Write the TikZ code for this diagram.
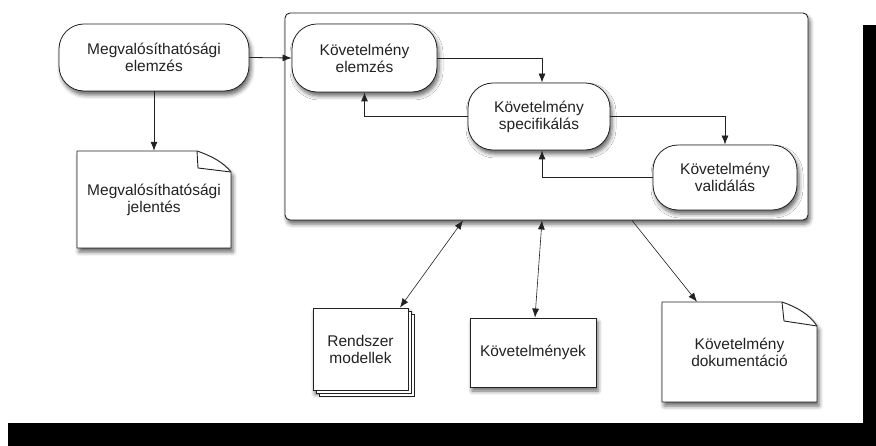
\documentclass[tikz,border=0pt]{standalone}
\usepackage{fontspec}
\setmainfont{Liberation Sans}
\usetikzlibrary{arrows.meta,shadows,shadows.blur}
\definecolor{linec}{HTML}{222222}
\begin{document}
\begin{tikzpicture}[x=1pt,y=-1pt,
  shad/.style={blur shadow={shadow xshift=2pt,shadow yshift=-4pt,shadow blur radius=4pt,shadow opacity=60}},
  txt/.style={align=center,font=\fontsize{15.5}{17}\selectfont,text=linec,inner sep=0pt},
  proc/.style={txt,draw=linec,fill=white,line width=0.8pt,rounded corners=25pt,shad},
  boxn/.style={txt,draw=linec,fill=white,line width=0.9pt,shad},
  docn/.style={txt},
  docline/.style={draw=linec,line width=0.9pt,line join=round},
  arr/.style={draw=linec,line width=0.8pt,-{Latex[length=9pt,width=7pt]}},
  arrb/.style={draw=linec,line width=0.6pt,{Latex[length=9pt,width=7pt]}-{Latex[length=9pt,width=7pt]}},
  arro/.style={draw=linec,line width=0.6pt,-{Latex[length=9pt,width=7pt]}}
]
\useasboundingbox (0,0) rectangle (876,446);
\fill[black] (863,25) rectangle (876,446);
\fill[black] (8,423) rectangle (876,446);

% big container
\node[draw=linec,fill=white,line width=0.9pt,rounded corners=5pt,minimum width=523pt,minimum height=207pt,inner sep=0pt,shad] (big) at (546.5,116.5) {};

% process nodes
\node[proc,minimum width=190pt,minimum height=67pt] (fe) at (154,57.5) {Megvalósíthatósági\\elemzés};
\node[proc,minimum width=145pt,minimum height=68pt] (ke) at (364.5,58) {Követelmény\\elemzés};
\node[proc,minimum width=142pt,minimum height=67pt] (ks) at (539,116.5) {Követelmény\\specifikálás};
\node[proc,minimum width=144pt,minimum height=65pt] (kv) at (725,177.5) {Követelmény\\validálás};

% document shapes (drawn before their text nodes)
\draw[docline,fill=white,shad] (77,248) -- (77,151) -- (197,151)
   .. controls (212,156) and (224,163) .. (231,172) -- (231,248) -- cycle;
\draw[docline] (197,151) -- (198,168) -- (231,172);
\draw[docline,fill=white,shad] (662,402) -- (662,302) -- (782,302)
   .. controls (797,307) and (810,315) .. (817,326) -- (817,402) -- cycle;
\draw[docline] (782,302) -- (784,321) -- (817,326);

\node[docn,minimum width=154pt,minimum height=97pt] (fr) at (154,199.5) {Megvalósíthatósági\\jelentés};
\node[docn,minimum width=155pt,minimum height=100pt] (kd) at (739.5,352) {Követelmény\\dokumentáció};

% stacked pages
\node[boxn,minimum width=95pt,minimum height=82pt,
  double copy shadow={shadow xshift=3pt,shadow yshift=-3pt,draw=linec,fill=white,line width=0.8pt}]
  (rm) at (360.5,349) {Rendszer\\modellek};
\node[boxn,minimum width=126pt,minimum height=69pt] (kk) at (533,352.5) {Követelmények};

% connectors
\draw[arr] (fe.south) -- (fr.north);
\draw[arr] (fe.east) -- (ke.west);
\draw[arr] (ke.east) -| ([xshift=3pt]ks.north);
\draw[arr] (ks.west) -| (ke.south);
\draw[arr] (ks.east) -| (kv.north);
\draw[arr] (kv.west) -| ([xshift=3pt]ks.south);

\draw[arrb] ([xshift=-83.5pt]big.south) -- ([xshift=39.5pt]rm.north);
\draw[arrb] ([xshift=-4.5pt]big.south) -- ([xshift=2pt]kk.north);
\draw[arro] ([xshift=85.5pt]big.south) -- ([xshift=-42.5pt]kd.north);
\end{tikzpicture}
\end{document}
